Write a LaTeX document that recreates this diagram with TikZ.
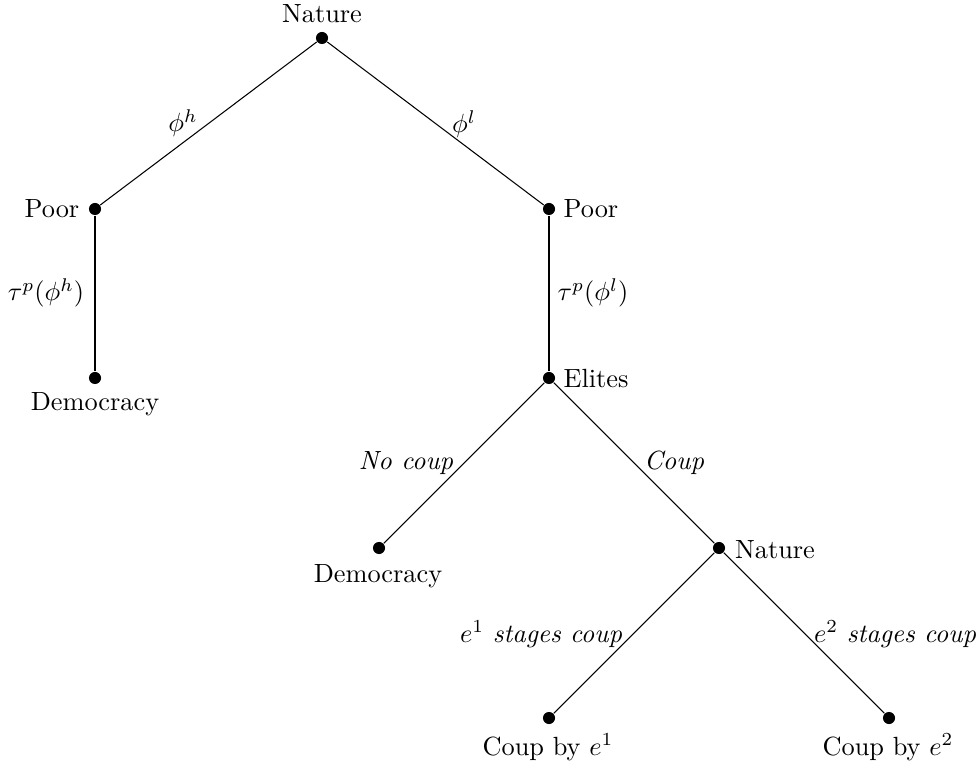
\documentclass[tikz,border=0pt]{standalone}
\begin{document}
\begin{tikzpicture}[x=0.38pt,y=-0.38pt,
  dot/.style={circle,fill=black,inner sep=0pt,minimum size=4.6pt},
  lbl/.style={anchor=base,inner sep=0pt},
  branch/.style={draw=black,line width=0.4pt}]
\useasboundingbox (0,0) rectangle (979,767);
% decision / terminal points
\node[dot] (n0) at (322,38) {};
\node[dot] (pl) at (95,209) {};
\node[dot] (dl) at (95,378) {};
\node[dot] (pr) at (549,209) {};
\node[dot] (el) at (549,378) {};
\node[dot] (dm) at (379,548) {};
\node[dot] (n2) at (719,548) {};
\node[dot] (c1) at (549,718) {};
\node[dot] (c2) at (889,718) {};
% branches
\draw[branch] (n0) -- (pl);
\draw[branch] (n0) -- (pr);
\draw[branch] (pl) -- (dl);
\draw[branch] (pr) -- (el);
\draw[branch] (el) -- (dm);
\draw[branch] (el) -- (n2);
\draw[branch] (n2) -- (c1);
\draw[branch] (n2) -- (c2);
% node labels
\node[lbl] (tn0) at (322,23) {Nature};
\node[lbl] (tpl) at (52,218) {Poor};
\node[lbl] (tdl) at (95,411) {Democracy};
\node[lbl] (tpr) at (591,218) {Poor};
\node[lbl] (tel) at (596,388) {Elites};
\node[lbl] (tdm) at (378,582) {Democracy};
\node[lbl] (tn2) at (775,558) {Nature};
\node[lbl] (tc1) at (548,755) {Coup by $e^1$};
\node[lbl] (tc2) at (888,755) {Coup by $e^2$};
% edge labels
\node[lbl] (eph) at (183,132) {$\phi^h$};
\node[lbl] (epl) at (464,133) {$\phi^l$};
\node[lbl] (eth) at (46,301) {$\tau^p(\phi^h)$};
\node[lbl] (etl) at (593,301) {$\tau^p(\phi^l)$};
\node[lbl] (enc) at (406,470) {\textit{No coup}};
\node[lbl] (ecp) at (674,470) {\textit{Coup}};
\node[lbl] (ee1) at (541,642) {$e^1$ \textit{stages coup}};
\node[lbl] (ee2) at (895,642) {$e^2$ \textit{stages coup}};
\end{tikzpicture}
\end{document}
